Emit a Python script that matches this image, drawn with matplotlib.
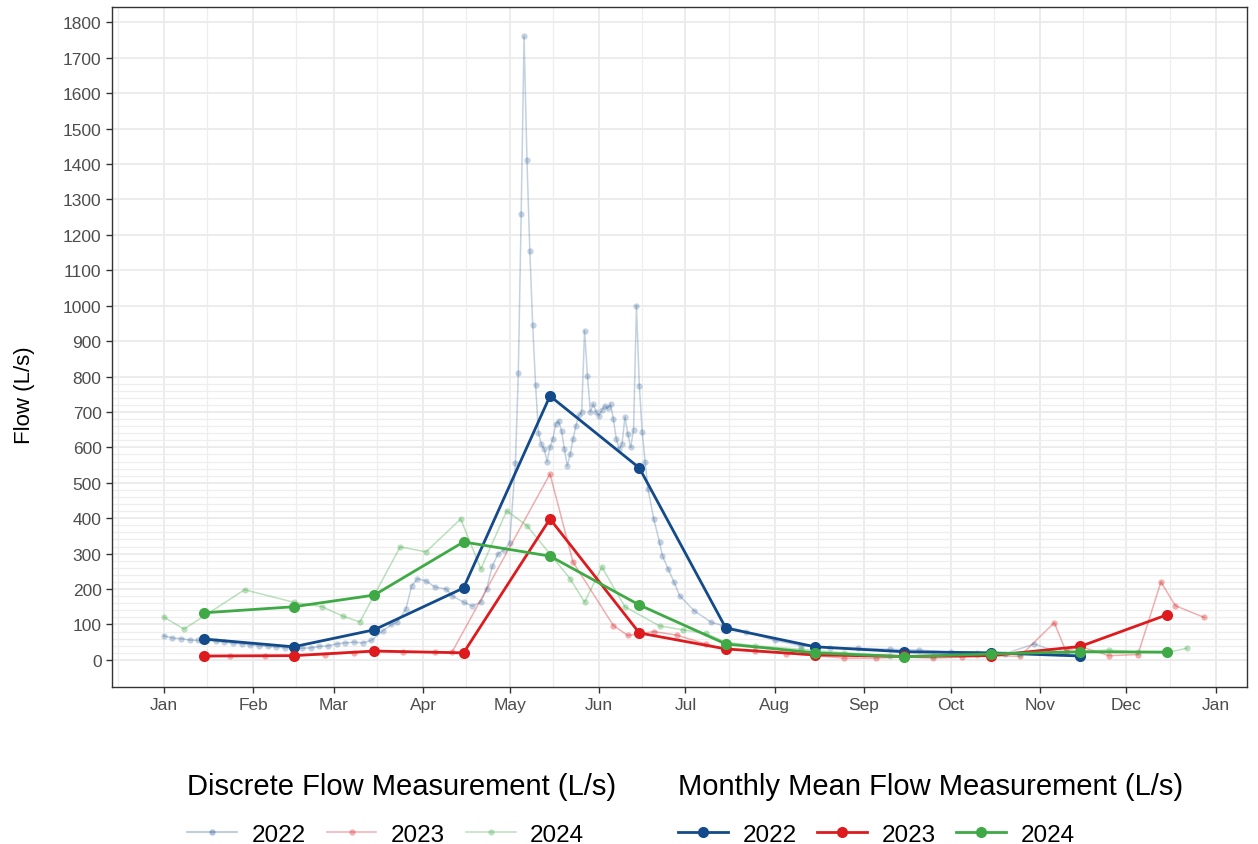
import pandas as pd
import matplotlib
matplotlib.use("Agg")
import matplotlib.pyplot as plt
import matplotlib.dates as mdates
from matplotlib.lines import Line2D

plt.rcParams['font.family'] = ['Liberation Sans', 'DejaVu Sans']

# discrete flow measurements, month-day and flow (L/s)
d2022_days = ["01-01", "01-04", "01-07", "01-10", "01-13", "01-16", "01-19", "01-22", "01-25", "01-28",
              "01-31", "02-03", "02-06", "02-09", "02-12", "02-15", "02-18", "02-21", "02-24", "02-27",
              "03-02", "03-05", "03-08", "03-11", "03-14", "03-18", "03-21", "03-23", "03-26", "03-28",
              "03-30", "04-02", "04-05", "04-09", "04-11", "04-15", "04-18", "04-21", "04-23", "04-25",
              "04-27", "04-29", "05-01", "05-03", "05-04", "05-05", "05-06", "05-07", "05-08", "05-09",
              "05-10", "05-11", "05-12", "05-13", "05-14", "05-15", "05-16", "05-17", "05-18", "05-19",
              "05-20", "05-21", "05-22", "05-23", "05-24", "05-25", "05-26", "05-27", "05-28", "05-29",
              "05-30", "05-31", "06-01", "06-02", "06-03", "06-04", "06-05", "06-06", "06-07", "06-08",
              "06-09", "06-10", "06-11", "06-12", "06-13", "06-14", "06-15", "06-16", "06-17", "06-18",
              "06-20", "06-22", "06-23", "06-25", "06-27", "06-29", "07-04", "07-10", "07-14", "07-22",
              "08-01", "08-10", "08-20", "08-30", "09-10", "09-20", "10-01", "10-10", "10-20", "10-30",
              "11-08", "11-15"]
d2022_flow = [68, 62, 60, 56, 55, 57, 52, 50, 47, 45,
              42, 40, 38, 36, 34, 35, 33, 34, 38, 40,
              45, 48, 50, 48, 55, 82, 100, 107, 144, 209,
              229, 223, 206, 200, 181, 163, 152, 163, 200, 265,
              300, 310, 330, 555, 810, 1258, 1760, 1411, 1154, 945,
              776, 640, 609, 595, 560, 600, 624, 666, 675, 647,
              595, 548, 580, 624, 661, 690, 700, 929, 802, 700,
              722, 700, 689, 705, 717, 710, 722, 680, 624, 595,
              610, 685, 638, 600, 650, 1000, 774, 643, 560, 483,
              398, 333, 294, 257, 220, 181, 139, 106, 97, 80,
              55, 40, 35, 33, 30, 28, 22, 20, 18, 45,
              20, 12]

d2023_days = ["01-15", "01-24", "02-05", "02-15", "02-26", "03-08", "03-15", "03-25", "04-05", "04-11",
              "05-15", "05-23", "06-06", "06-11", "06-20", "06-28", "07-08", "07-15", "07-25", "08-05",
              "08-15", "08-25", "09-05", "09-15", "09-25", "10-05", "10-15", "10-25", "11-06", "11-10",
              "11-15", "11-25", "12-05", "12-13", "12-18", "12-28"]
d2023_flow = [8, 12, 12, 12, 15, 20, 25, 22, 22, 22,
              525, 276, 97, 69, 80, 70, 45, 30, 25, 18,
              12, 5, 5, 8, 5, 8, 12, 10, 105, 25,
              38, 12, 15, 220, 153, 120]

d2024_days = ["01-01", "01-08", "01-29", "02-15", "02-25", "03-04", "03-10", "03-24", "04-02", "04-14",
              "04-21", "04-30", "05-07", "05-22", "05-27", "06-02", "06-10", "06-22", "06-30", "07-08",
              "07-15", "07-25", "08-10", "08-25", "09-10", "09-25", "10-10", "10-25", "11-10", "11-25",
              "12-05", "12-15", "12-22"]
d2024_flow = [121, 87, 198, 163, 150, 124, 107, 319, 305, 398,
              257, 421, 379, 229, 163, 262, 150, 96, 85, 75,
              50, 40, 30, 20, 12, 10, 15, 18, 22, 28,
              22, 20, 33]

# monthly mean flow (L/s), plotted mid-month
mean_days = ["01-15", "02-15", "03-15", "04-15", "05-15", "06-15",
             "07-15", "08-15", "09-15", "10-15", "11-15", "12-15"]
mean_2022 = [59, 37, 85, 203, 745, 542, 90, 37, 23, 20, 11]
mean_2023 = [11, 12, 25, 20, 398, 76, 31, 14, 10, 12, 38, 127]
mean_2024 = [133, 150, 183, 333, 293, 155, 45, 20, 9, 17, 23, 22]

years = ["2022", "2023", "2024"]
colors = ["#124A8A", "#DD1B1E", "#3FAA45"]


def as_date(days):
    # all years share one calendar so they overlay on a single Jan-Dec axis
    return pd.to_datetime(["2023-" + d for d in days])


fig = plt.figure(figsize=(12.58, 8.45), dpi=100)
ax = fig.add_axes([0.089, 0.186, 0.902, 0.8045])

discrete = [(d2022_days, d2022_flow), (d2023_days, d2023_flow), (d2024_days, d2024_flow)]
for (days, flow), c, a in zip(discrete, colors, [0.25, 0.35, 0.35]):
    ax.plot(as_date(days), flow, color=c, alpha=a, lw=1.1, marker="o", ms=4.5, mew=0)

means = [mean_2022, mean_2023, mean_2024]
for vals, c in zip(means, colors):
    ax.plot(as_date(mean_days[:len(vals)]), vals, color=c, lw=2, marker="o", ms=8, mew=0)

ax.set_xlim(pd.Timestamp("2022-12-14"), pd.Timestamp("2024-01-11 18:00"))
ax.set_ylim(-76, 1843)

ax.xaxis.set_major_locator(mdates.MonthLocator())
ax.xaxis.set_major_formatter(mdates.DateFormatter("%b"))
ax.xaxis.set_minor_locator(mdates.MonthLocator(bymonthday=16))
ax.set_yticks(range(0, 1801, 100))
ax.set_yticks(range(20, 800, 20), minor=True)

ax.grid(True, which="major", color="#EBEBEB", lw=1.3)
ax.grid(True, which="minor", color="#EEEEEE", lw=0.9)
ax.set_axisbelow(True)
ax.tick_params(which="major", length=4, width=1, color="#333333", labelcolor="#4D4D4D", labelsize=12.5)
ax.tick_params(which="minor", length=0)
for s in ax.spines.values():
    s.set_color("#333333")
    s.set_linewidth(1)

ax.set_ylabel("Flow (L/s)", fontsize=16)
ax.yaxis.set_label_coords(-0.068, 0.43)

# two legends side by side under the panel
h_disc = [Line2D([], [], color=c, alpha=0.35, lw=1.1, marker="o", ms=4.5, mew=0) for c in colors]
h_mean = [Line2D([], [], color=c, lw=2, marker="o", ms=8, mew=0) for c in colors]
common = dict(ncol=3, loc="upper left", frameon=False, fontsize=17.5, title_fontsize=21,
              alignment="left", handlelength=2.05, handletextpad=0.6, columnspacing=0.85,
              borderpad=0, borderaxespad=0, labelspacing=0.97)
fig.legend(h_disc, years, title="Discrete Flow Measurement (L/s)",
           bbox_to_anchor=(0.149, 0.085), **common)
fig.legend(h_mean, years, title="Monthly Mean Flow Measurement (L/s)",
           bbox_to_anchor=(0.539, 0.085), **common)

fig.savefig("out.png", dpi=100, facecolor="white")
